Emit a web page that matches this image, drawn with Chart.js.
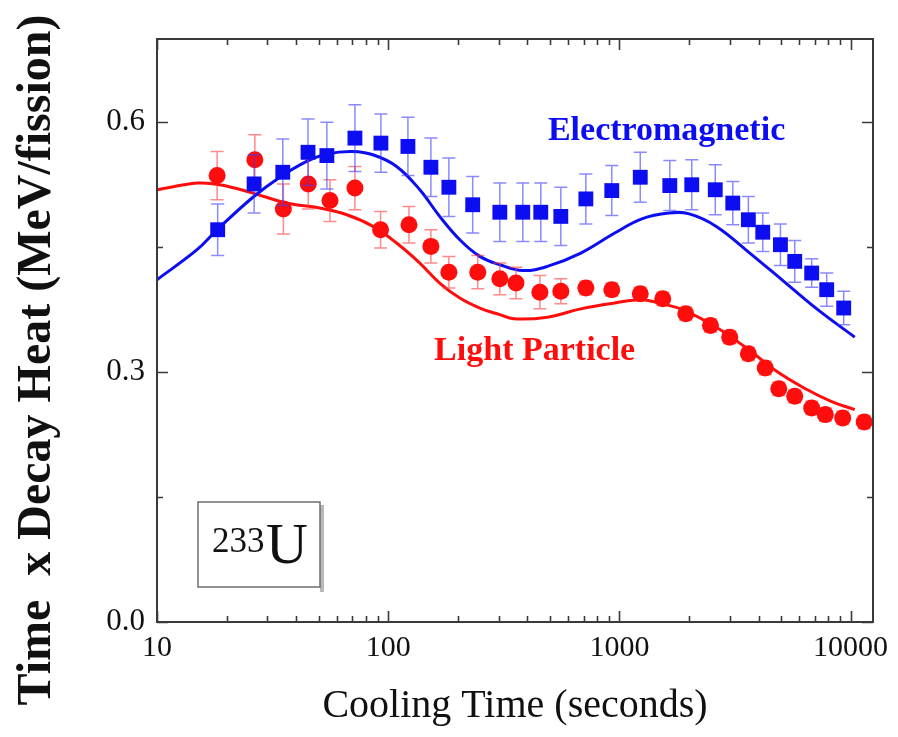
<!DOCTYPE html>
<html>
<head>
<meta charset="utf-8">
<title>233U decay heat</title>
<script src="https://cdn.jsdelivr.net/npm/chart.js@4/dist/chart.umd.min.js"></script>
<style>
  html, body { margin: 0; padding: 0; background: #fff; }
  #wrap { width: 898px; height: 737px; }
</style>
</head>
<body>
<div id="wrap"><canvas id="decayChart" width="898" height="737"></canvas></div>
<script>
// axis ticks
var xTickValues = [10, 100, 1000, 10000];
var yTickValues = [0, 0.3, 0.6];
var yMinorValues = [0.15, 0.45];

// electromagnetic (gamma) measurements, t x P(t) in MeV/fission
var emTimes = [18.3, 26.3, 35.0, 45.0, 54.3, 71.8, 93.0, 121.7, 153, 183, 232, 304, 382, 457, 558,
  716, 927, 1231, 1652, 2056, 2598, 3093, 3613, 4169, 4972, 5733, 6788, 7883, 9337];
var emValues = [0.471, 0.526, 0.540, 0.564, 0.560, 0.581, 0.575, 0.571, 0.546, 0.522, 0.501, 0.492, 0.492, 0.492, 0.487,
  0.508, 0.518, 0.534, 0.524, 0.525, 0.519, 0.503, 0.483, 0.468, 0.453, 0.433, 0.419, 0.399, 0.377];
var emErrors = [0.031, 0.035, 0.040, 0.040, 0.040, 0.040, 0.035, 0.035, 0.035, 0.035, 0.034, 0.035, 0.035, 0.035, 0.035,
  0.030, 0.030, 0.030, 0.030, 0.030, 0.030, 0.026, 0.028, 0.023, 0.025, 0.025, 0.017, 0.020, 0.020];

// light particle (beta) measurements
var lpTimes = [18.2, 26.5, 35.2, 45.1, 56.0, 71.8, 92.7, 123, 153, 183, 244, 304, 357, 453, 558,
  716, 927, 1231, 1540, 1937, 2477, 3001, 3613, 4274, 4889, 5733, 6788, 7773, 9244, 11450];
var lpValues = [0.536, 0.555, 0.496, 0.526, 0.506, 0.521, 0.471, 0.477, 0.451, 0.420, 0.420, 0.412, 0.407, 0.396, 0.397,
  0.401, 0.399, 0.394, 0.388, 0.370, 0.356, 0.342, 0.322, 0.305, 0.280, 0.271, 0.257, 0.249, 0.245, 0.240];
var lpErrors = [0.029, 0.030, 0.030, 0.030, 0.025, 0.026, 0.022, 0.022, 0.020, 0.019, 0.020, 0.019, 0.019, 0.020, 0.015,
  0.008, 0.008, 0.008, 0.008, 0.008, 0.008, 0.008, 0.008, 0.008, 0.008, 0.008, 0.008, 0.008, 0.008, 0.008];

// summation calculations
var emCalcTimes = [10, 14.9, 18.2, 26.0, 34.0, 44.4, 54.3, 70.3, 85.9, 108.7, 137, 167, 204, 249, 304, 382, 488,
  681, 955, 1250, 1635, 2005, 2624, 3664, 5140, 7210, 10420];
var emCalcValues = [0.411, 0.447, 0.471, 0.510, 0.534, 0.553, 0.562, 0.565, 0.561, 0.547, 0.519, 0.487, 0.459, 0.439,
  0.429, 0.422, 0.427, 0.443, 0.467, 0.484, 0.491, 0.490, 0.475, 0.443, 0.409, 0.375, 0.342];
var lpCalcTimes = [10, 15.0, 18.7, 26.0, 36.3, 50.6, 66.2, 86, 108.7, 137, 167, 204, 249, 304, 349, 488,
  681, 955, 1250, 1531, 1876, 2624, 3664, 4786, 6289, 8236, 10420];
var lpCalcValues = [0.519, 0.527, 0.525, 0.515, 0.503, 0.497, 0.489, 0.475, 0.455, 0.431, 0.407, 0.389, 0.377, 0.369,
  0.364, 0.366, 0.376, 0.383, 0.387, 0.382, 0.375, 0.354, 0.326, 0.301, 0.281, 0.265, 0.255];

var blue = "#0d0df2";
var red = "#ff0d0d";
var serif = "'Liberation Serif', 'Times New Roman', serif";

function points(xs, ys) {
  return xs.map(function (x, i) { return { x: x, y: ys[i] }; });
}

// vertical error bars drawn just before each marker set
var errorBars = {
  id: "errorBars",
  beforeDatasetDraw: function (chart, args) {
    var ds = chart.data.datasets[args.index];
    if (!ds.errors) return;
    var ctx = chart.ctx;
    var xs = chart.scales.x, ys = chart.scales.y;
    ctx.save();
    ctx.strokeStyle = ds.errorColor;
    ctx.lineWidth = 1.5;
    ds.data.forEach(function (p, i) {
      var e = ds.errors[i];
      var px = xs.getPixelForValue(p.x);
      var y1 = ys.getPixelForValue(p.y + e);
      var y2 = ys.getPixelForValue(p.y - e);
      ctx.beginPath();
      ctx.moveTo(px, y1); ctx.lineTo(px, y2);
      ctx.moveTo(px - 6.5, y1); ctx.lineTo(px + 6.5, y1);
      ctx.moveTo(px - 6.5, y2); ctx.lineTo(px + 6.5, y2);
      ctx.stroke();
    });
    ctx.restore();
  }
};

// box frame with inward ticks on all four sides, plus the text annotations
var frame = {
  id: "frame",
  afterDraw: function (chart) {
    var ctx = chart.ctx;
    var a = chart.chartArea;
    var xs = chart.scales.x, ys = chart.scales.y;
    ctx.save();
    ctx.strokeStyle = "#3a3a3a";
    ctx.lineWidth = 2;
    ctx.strokeRect(a.left, a.top, a.right - a.left, a.bottom - a.top);

    function xTick(v, len) {
      var px = Math.round(xs.getPixelForValue(v)) + 0.5;
      ctx.beginPath();
      ctx.moveTo(px, a.bottom); ctx.lineTo(px, a.bottom - len);
      ctx.moveTo(px, a.top); ctx.lineTo(px, a.top + len);
      ctx.stroke();
    }
    function yTick(v, len) {
      var py = Math.round(ys.getPixelForValue(v)) + 0.5;
      ctx.beginPath();
      ctx.moveTo(a.left, py); ctx.lineTo(a.left + len, py);
      ctx.moveTo(a.right, py); ctx.lineTo(a.right - len, py);
      ctx.stroke();
    }
    ctx.lineWidth = 1.6;
    xTickValues.forEach(function (d) {
      xTick(d, 11);
      for (var k = 2; k < 10; k++) {
        if (k * d <= xs.max) xTick(k * d, 6);
      }
    });
    yTickValues.forEach(function (v) { yTick(v, 11); });
    yMinorValues.forEach(function (v) { yTick(v, 6); });

    // series labels
    ctx.textAlign = "center";
    ctx.textBaseline = "alphabetic";
    ctx.font = "bold 34px " + serif;
    ctx.fillStyle = blue;
    ctx.fillText("Electromagnetic", xs.getPixelForValue(1600), ys.getPixelForValue(0.579));
    ctx.fillStyle = red;
    ctx.fillText("Light Particle", xs.getPixelForValue(430), ys.getPixelForValue(0.3145));

    // nuclide box
    var bx = a.left + 41, by = a.bottom - 120, bw = 122, bh = 85;
    ctx.fillStyle = "#b8b8b8";
    ctx.fillRect(bx + bw, by + 3, 4, bh + 2);
    ctx.strokeStyle = "#6e6e6e";
    ctx.lineWidth = 1.5;
    ctx.strokeRect(bx, by, bw, bh);
    ctx.fillStyle = "#111";
    ctx.textAlign = "left";
    ctx.font = "35px " + serif;
    ctx.fillText("233", bx + 14, by + 50);
    ctx.font = "58px " + serif;
    ctx.fillText("U", bx + 68, by + 61);

    // axis titles
    ctx.textAlign = "center";
    ctx.font = "40px " + serif;
    ctx.fillText("Cooling Time (seconds)", (a.left + a.right) / 2, 717);
    ctx.save();
    ctx.translate(50, 360);
    ctx.rotate(-Math.PI / 2);
    ctx.font = "bold 48px " + serif;
    ctx.fillText("Time  x Decay Heat (MeV/fission)", 0, 0);
    ctx.restore();
    ctx.restore();
  }
};

new Chart(document.getElementById("decayChart"), {
  type: "scatter",
  data: {
    datasets: [
      {
        label: "Electromagnetic",
        data: points(emTimes, emValues),
        errors: emErrors,
        errorColor: "rgba(60, 60, 255, 0.6)",
        backgroundColor: blue,
        borderColor: blue,
        borderWidth: 0,
        pointStyle: "rect",
        pointRadius: 10.5,
        showLine: false
      },
      {
        label: "Light Particle",
        data: points(lpTimes, lpValues),
        errors: lpErrors,
        errorColor: "rgba(255, 60, 60, 0.6)",
        backgroundColor: red,
        borderColor: red,
        borderWidth: 0,
        pointStyle: "circle",
        pointRadius: 8.5,
        showLine: false
      },
      {
        label: "Electromagnetic calc",
        data: points(emCalcTimes, emCalcValues),
        borderColor: blue,
        borderWidth: 3,
        pointRadius: 0,
        showLine: true,
        tension: 0.4
      },
      {
        label: "Light Particle calc",
        data: points(lpCalcTimes, lpCalcValues),
        borderColor: red,
        borderWidth: 3,
        pointRadius: 0,
        showLine: true,
        tension: 0.4
      }
    ]
  },
  options: {
    responsive: false,
    animation: false,
    devicePixelRatio: 1,
    layout: { padding: { left: 0, right: 25, top: 39, bottom: 0 } },
    plugins: {
      legend: { display: false },
      tooltip: { enabled: false }
    },
    scales: {
      x: {
        type: "logarithmic",
        min: 10,
        max: 12500,
        grid: { display: false, drawTicks: false },
        border: { display: false },
        afterBuildTicks: function (s) {
          s.ticks = xTickValues.map(function (v) { return { value: v }; });
        },
        afterFit: function (s) { s.height = 115; },
        ticks: {
          autoSkip: false,
          maxRotation: 0,
          padding: 8,
          color: "#111",
          font: { family: serif, size: 30 },
          callback: function (v) { return String(v); }
        }
      },
      y: {
        type: "linear",
        min: 0,
        max: 0.7,
        grid: { display: false, drawTicks: false },
        border: { display: false },
        afterBuildTicks: function (s) {
          s.ticks = yTickValues.map(function (v) { return { value: v }; });
        },
        afterFit: function (s) { s.width = 157; },
        ticks: {
          padding: 12,
          color: "#111",
          font: { family: serif, size: 31 },
          callback: function (v) { return v.toFixed(1); }
        }
      }
    }
  },
  plugins: [errorBars, frame]
});
</script>
</body>
</html>
